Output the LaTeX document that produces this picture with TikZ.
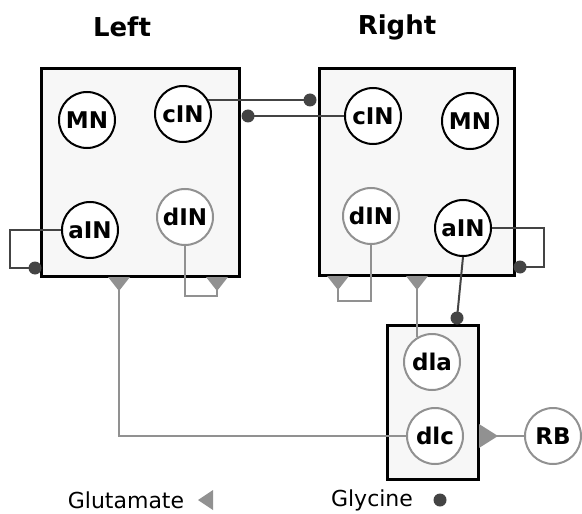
\documentclass[tikz,border=0pt]{standalone}
\usepackage{fontspec}
\setsansfont{DejaVu Sans}
\usetikzlibrary{calc}

\begin{document}
\begin{tikzpicture}[x=0.5pt,y=-0.5pt,font=\sffamily,
  cell/.style={circle,draw=black,line width=1pt,fill=white,minimum size=28pt,
    inner sep=0pt,font=\sffamily\bfseries\fontsize{11.5}{13}\selectfont},
  gcell/.style={cell,draw=glu},
  region/.style={draw=black,line width=1.5pt,fill=black!3},
  glyline/.style={draw=gly,line width=1pt},
  gluline/.style={draw=glu,line width=1pt}]
\definecolor{gly}{RGB}{68,68,68}
\definecolor{glu}{RGB}{145,145,145}

\useasboundingbox (0,0) rectangle (582,513);

% Side titles.
\node[font=\sffamily\bfseries\fontsize{13}{15}\selectfont] (ttlL) at (122,27) {Left};
\node[font=\sffamily\bfseries\fontsize{13}{15}\selectfont] (ttlR) at (397,27) {Right};

% Left and right halves, and the small box below.
\path[region] (41,69) rectangle (239,276);
\path[region] (319,69) rectangle (514,275);
\path[region] (387,325) rectangle (478,479);

\node[cell] (lMN) at (87,120) {MN};
\node[cell] (lcIN) at (183,114) {cIN};
\node[cell] (laIN) at (90,230) {aIN};
\node[gcell] (ldIN) at (185,217) {dIN};

\node[cell] (rcIN) at (373,116) {cIN};
\node[cell] (rMN) at (470,121) {MN};
\node[gcell] (rdIN) at (371,216) {dIN};
\node[cell] (raIN) at (463,228) {aIN};

\node[gcell] (dla) at (432,362) {dla};
\node[gcell] (dlc) at (435,436) {dlc};
\node[gcell] (RB) at (553,436) {RB};

% Synapse points on the box edges.
\coordinate (gR) at (310,100);
\coordinate (gL) at (248,116);
\coordinate (gLa) at (35,268);
\coordinate (gRa) at (520,267);
\coordinate (gD) at (457,318);
\coordinate (tL1) at (119,277);
\coordinate (tL2) at (217,277);
\coordinate (tR1) at (338,276);
\coordinate (tR2) at (417,276);
\coordinate (tD) at (479,436);

% Glycinergic connections.
\draw[glyline] (lcIN.30 |- gR) -- (gR);
\draw[glyline] (rcIN.west) -- (gL);
\draw[glyline] (laIN.west) -- ++(-51,0) |- (gLa);
\draw[glyline] (raIN.east) -- ++(52,0) |- (gRa);
\draw[glyline] (raIN.south) -- (gD);

% Glutamatergic connections.
\draw[gluline] (ldIN.south) -- ++(0,50) -| (tL2);
\draw[gluline] (rdIN.south) -- ++(0,56) -| (tR1);
\draw[gluline] (tL1) |- (dlc.west);
\draw[gluline] (tR2) -- (tR2 |- dla.121);
\draw[gluline] (tD) -- (RB.west);

\foreach \t in {tL1,tL2,tR1,tR2}
  \fill[glu] ($(\t)+(-11,0)$) -- ($(\t)+(11,0)$) -- ($(\t)+(0,14)$) -- cycle;
\fill[glu] ($(tD)+(0,-12)$) -- ($(tD)+(0,12)$) -- ($(tD)+(19,0)$) -- cycle;
\foreach \d in {gR,gL,gLa,gRa,gD}
  \fill[gly] (\d) circle (6.5);

% Legend.
\node[font=\sffamily\fontsize{11}{13}\selectfont] (lgGlu) at (126,500) {Glutamate};
\fill[glu] (198,500) -- (213,490) -- (213,510) -- cycle;
\node[font=\sffamily\fontsize{11}{13}\selectfont] (lgGly) at (372,500) {Glycine};
\fill[gly] (440,500) circle (6.5);

\end{tikzpicture}
\end{document}
